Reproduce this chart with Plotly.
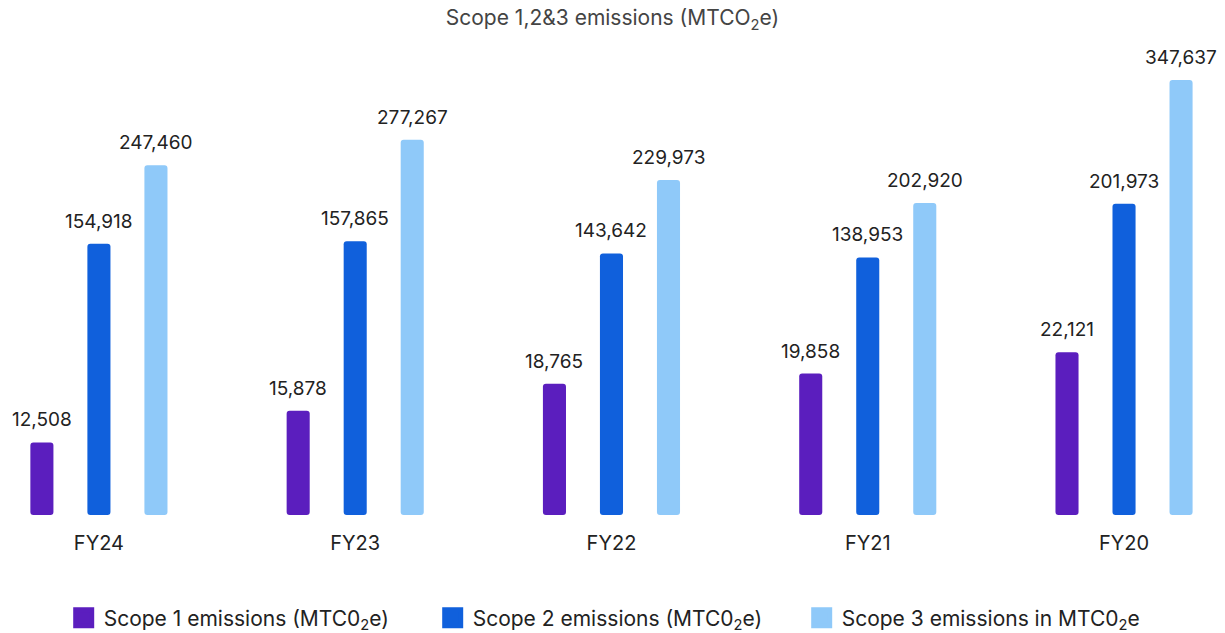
import plotly.graph_objects as go

# ---- data ----
CATEGORIES = ["FY24", "FY23", "FY22", "FY21", "FY20"]
SCOPE1 = [12508, 15878, 18765, 19858, 22121]
SCOPE2 = [154918, 157865, 143642, 138953, 201973]
SCOPE3 = [247460, 277267, 229973, 202920, 347637]
SERIES_NAMES = [
    "Scope 1 emissions (MTC0<sub>2</sub>e)",
    "Scope 2 emissions (MTC0<sub>2</sub>e)",
    "Scope 3 emissions in MTC0<sub>2</sub>e",
]
TITLE = "Scope 1,2&3 emissions (MTCO<sub>2</sub>e)"

# ---- style ----
COLORS = ["#5B1EBE", "#1060DC", "#8FC9F9"]
FONT = "Inter, 'Open Sans', sans-serif"
W = 0.09      # bar width (category units)
D = 0.2225    # distance between bars in a group
Y_RANGE = [-164100, 371200]   # scope 2/3 axis
Y2_RANGE = [4760, 53330]      # scope 1 axis

fig = go.Figure()

series = [
    (SCOPE1, "y2", Y2_RANGE[0], -D),
    (SCOPE2, "y", Y_RANGE[0], 0.0),
    (SCOPE3, "y", Y_RANGE[0], D),
]

annotations = []
for k, (vals, yax, base, off) in enumerate(series):
    fig.add_trace(go.Bar(
        x=CATEGORIES,
        y=[v - base for v in vals],
        base=base,
        width=W,
        offset=off - W / 2,
        marker=dict(color=COLORS[k], line=dict(width=0)),
        yaxis=yax,
        showlegend=False,
        name=SERIES_NAMES[k],
        customdata=vals,
        hovertemplate="%{x}: %{customdata:,}<extra></extra>",
    ))
    for i, v in enumerate(vals):
        annotations.append(dict(
            x=i + off, y=v, xref="x", yref=yax,
            text=f"{v:,}", showarrow=False,
            yanchor="bottom", xanchor="center", yshift=9,
            font=dict(family=FONT, size=19, color="#222222"),
        ))

# legend entries
for k in range(3):
    fig.add_trace(go.Scatter(
        x=[CATEGORIES[0]], y=[None], mode="markers",
        marker=dict(symbol="square", size=16, color=COLORS[k],
                    line=dict(width=5, color=COLORS[k])),
        name=SERIES_NAMES[k], showlegend=True, hoverinfo="skip",
    ))

fig.update_layout(
    width=1225, height=633,
    margin=dict(l=0, r=0, t=60, b=118, autoexpand=False),
    paper_bgcolor="white", plot_bgcolor="white",
    barmode="overlay",
    barcornerradius=3,
    font=dict(family=FONT, color="#222222"),
    title=dict(
        text=TITLE, x=0.5, xanchor="center",
        yref="container", y=1 - 18 / 633, yanchor="middle",
        font=dict(family=FONT, size=21, color="#444444"),
    ),
    xaxis=dict(
        type="category", range=[-0.386, 4.394],
        showgrid=False, zeroline=False, showline=False,
        ticks="", ticklabelstandoff=14,
        tickfont=dict(family=FONT, size=20, color="#222222"),
    ),
    yaxis=dict(range=Y_RANGE, visible=False, showgrid=False, zeroline=False),
    yaxis2=dict(range=Y2_RANGE, visible=False, overlaying="y",
                showgrid=False, zeroline=False),
    legend=dict(
        orientation="h", xref="container", x=0.052, xanchor="left",
        yref="container", y=1 - 618 / 633, yanchor="middle",
        itemsizing="trace", entrywidth=324, entrywidthmode="pixels",
        font=dict(family=FONT, size=21, color="#222222"),
    ),
    annotations=annotations,
)

fig.write_html(
    "out.html",
    config={"displayModeBar": False},
    post_script="document.body.style.margin='0';document.body.style.overflow='hidden';",
)
